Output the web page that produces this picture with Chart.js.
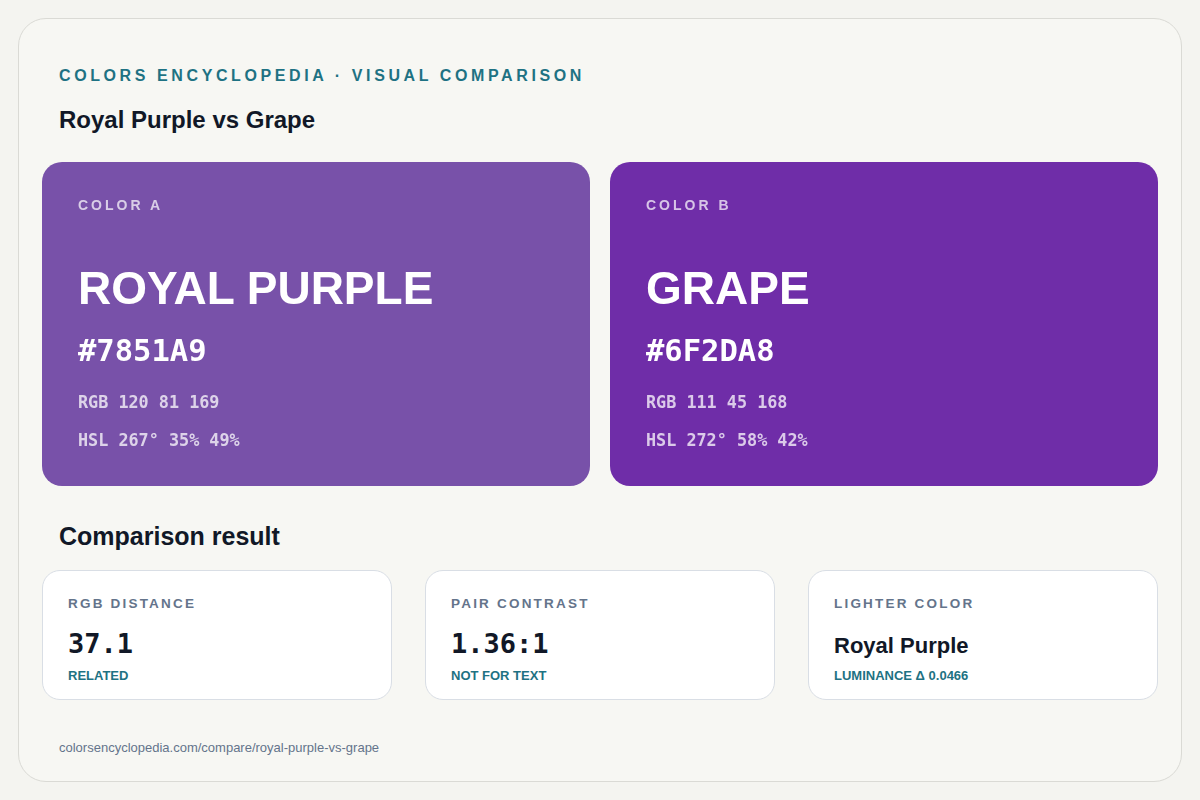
<!DOCTYPE html>
<html>
<head>
<meta charset="utf-8">
<script src="https://cdn.jsdelivr.net/npm/chart.js@4.4.1/dist/chart.umd.min.js"></script>
<style>
  html, body { margin: 0; padding: 0; }
  body {
    width: 1200px; height: 800px; background: #f4f4f0;
    font-family: "Liberation Sans", Arial, sans-serif; position: relative; overflow: hidden;
  }
  .card {
    position: absolute; left: 18px; top: 18px; width: 1164px; height: 764px;
    border: 1.5px solid #dadad5; border-radius: 28px; background: #f7f7f3; box-sizing: border-box;
  }
  .abs { position: absolute; white-space: nowrap; }
  .eyebrow { left: 59px; top: 67px; font-size: 16px; font-weight: 700; letter-spacing: 3.6px; color: #1e7283; }
  .title { left: 59px; top: 106px; font-size: 24px; font-weight: 700; color: #111827; }
  #swatchWrap { position: absolute; left: 32px; top: 162px; width: 1136px; height: 324px; }
  .swLabel { font-size: 14px; font-weight: 700; letter-spacing: 3px; color: rgba(255,255,255,0.72); }
  .swName { font-size: 46px; font-weight: 700; color: #fff; }
  .swHex { font-family: "DejaVu Sans Mono", monospace; font-size: 30.5px; font-weight: 700; color: #fff; }
  .swMeta { font-family: "DejaVu Sans Mono", monospace; font-size: 16.8px; font-weight: 700; color: rgba(255,255,255,0.75); }
  .section { left: 59px; top: 522px; font-size: 25px; font-weight: 700; color: #111827; }
  .stat {
    position: absolute; top: 570px; width: 350px; height: 130px; background: #fff;
    border: 1px solid #d9dee5; border-radius: 18px; box-sizing: border-box;
  }
  .statLabel { left: 25px; top: 25px; font-size: 13.5px; font-weight: 700; letter-spacing: 2.2px; color: #64748b; }
  .statMono { left: 25px; top: 57px; font-family: "DejaVu Sans Mono", monospace; font-size: 27px; font-weight: 700; color: #111827; }
  .statText { left: 25px; top: 62px; font-size: 22px; font-weight: 700; color: #111827; }
  .statNote { left: 25px; top: 97px; font-size: 13px; font-weight: 700; color: #1e7283; }
  .footer { left: 59px; top: 740px; font-size: 13px; color: #64748b; }
</style>
</head>
<body>
<div class="card"></div>
<div class="abs eyebrow">COLORS ENCYCLOPEDIA · VISUAL COMPARISON</div>
<div class="abs title">Royal Purple vs Grape</div>
<div id="swatchWrap"><canvas id="swatchChart"></canvas></div>
<div id="swatchText"></div>
<div class="abs section">Comparison result</div>
<div id="stats"></div>
<div class="abs footer">colorsencyclopedia.com/compare/royal-purple-vs-grape</div>

<script>
const slots = ["COLOR A", "COLOR B"];
const names = ["ROYAL PURPLE", "GRAPE"];
const hexes = ["#7851A9", "#6F2DA8"];
const rgbs = ["RGB 120 81 169", "RGB 111 45 168"];
const hsls = ["HSL 267° 35% 49%", "HSL 272° 58% 42%"];
const swatchValues = [1, 1];

const statLabels = ["RGB DISTANCE", "PAIR CONTRAST", "LIGHTER COLOR"];
const statValues = ["37.1", "1.36:1", "Royal Purple"];
const statNotes = ["RELATED", "NOT FOR TEXT", "LUMINANCE Δ 0.0466"];

new Chart(document.getElementById("swatchChart"), {
  type: "bar",
  data: {
    labels: slots,
    datasets: [{
      data: swatchValues,
      backgroundColor: hexes,
      borderRadius: 20,
      borderSkipped: false,
      borderWidth: 0,
      barPercentage: 548 / 568,
      categoryPercentage: 1
    }]
  },
  options: {
    responsive: true,
    maintainAspectRatio: false,
    animation: false,
    layout: { padding: 0 },
    plugins: { legend: { display: false }, tooltip: { enabled: false } },
    scales: {
      x: { display: false },
      y: { display: false, min: 0, max: 1 }
    }
  }
});

// text on top of the swatches
const swText = document.getElementById("swatchText");
const swLeft = [78, 646];
slots.forEach((slot, i) => {
  const x = swLeft[i];
  swText.insertAdjacentHTML("beforeend",
    `<div class="abs swLabel" style="left:${x}px;top:197px">${slot}</div>` +
    `<div class="abs swName" style="left:${x}px;top:261px">${names[i]}</div>` +
    `<div class="abs swHex" style="left:${x}px;top:333px">${hexes[i]}</div>` +
    `<div class="abs swMeta" style="left:${x}px;top:392px">${rgbs[i]}</div>` +
    `<div class="abs swMeta" style="left:${x}px;top:430px">${hsls[i]}</div>`);
});

const stats = document.getElementById("stats");
const statLeft = [42, 425, 808];
statLabels.forEach((label, i) => {
  const valueClass = i === 2 ? "statText" : "statMono";
  stats.insertAdjacentHTML("beforeend",
    `<div class="stat" style="left:${statLeft[i]}px">` +
    `<div class="abs statLabel">${label}</div>` +
    `<div class="abs ${valueClass}">${statValues[i]}</div>` +
    `<div class="abs statNote">${statNotes[i]}</div></div>`);
});
</script>
</body>
</html>
